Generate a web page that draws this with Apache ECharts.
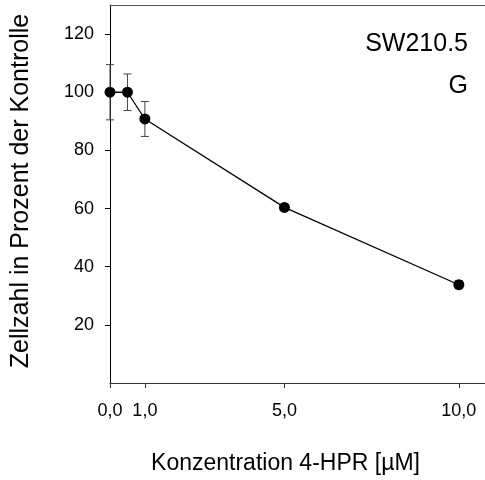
<!DOCTYPE html>
<html><head><meta charset="utf-8">
<script src="https://cdn.jsdelivr.net/npm/echarts@6/dist/echarts.min.js"></script>
<style>html,body{margin:0;padding:0;background:#fff}#c{width:485px;height:480px}</style>
</head><body><div id="c"></div>
<script>
const concentrations = [0, 0.5, 1, 5, 10];
const meanValues = [100, 100, 90.8, 60.4, 33.8];
const errValues = [9.5, 6.3, 6.0, 1.0, 1.4];
const xTicks = [0, 1, 5, 10];
const yTicks = [20, 40, 60, 80, 100, 120];
const titleLines = ['SW210.5', 'G'];

const font = 'Liberation Sans, Arial, sans-serif';
const chart = echarts.init(document.getElementById('c'));
const lineData = concentrations.map((x, i) => [x, meanValues[i]]);
const errData = concentrations.map((x, i) => [x, meanValues[i] - errValues[i], meanValues[i] + errValues[i]]);

chart.setOption({
  animation: false,
  grid: { left: 110, top: 5, right: 0, bottom: 97 },
  graphic: [
    { type: 'text', right: 17, top: 32, style: { text: titleLines[0], font: '25px ' + font, fill: '#000', textAlign: 'right' } },
    { type: 'text', right: 17, top: 74, style: { text: titleLines[1], font: '25px ' + font, fill: '#000', textAlign: 'right' } }
  ],
  xAxis: [{
    type: 'value', min: 0, max: 10.75,
    name: 'Konzentration 4-HPR [\u00b5M]', nameLocation: 'middle', nameGap: 69,
    nameTextStyle: { fontFamily: font, fontSize: 23, color: '#000', padding: [0, 24, 0, 0] },
    axisLine: { show: true, lineStyle: { color: '#333', width: 1 } },
    axisTick: { show: true, length: 5, lineStyle: { color: '#333' }, customValues: xTicks },
    axisLabel: { fontFamily: font, fontSize: 18, color: '#000', margin: 19, customValues: xTicks,
      formatter: v => v.toFixed(1).replace('.', ',') },
    splitLine: { show: false }
  }, {
    type: 'value', min: 0, max: 10.75, position: 'top',
    axisLine: { show: true, lineStyle: { color: '#555', width: 1 } },
    axisTick: { show: false }, axisLabel: { show: false }, splitLine: { show: false }
  }],
  yAxis: {
    type: 'value', min: 0, max: 130,
    name: 'Zellzahl in Prozent der Kontrolle', nameLocation: 'middle', nameGap: 76,
    nameTextStyle: { fontFamily: font, fontSize: 25, color: '#000', padding: [0, 0, 0, 6] },
    axisLine: { show: true, lineStyle: { color: '#000', width: 1 } },
    axisTick: { show: true, length: 5, lineStyle: { color: '#000' }, customValues: yTicks },
    axisLabel: { fontFamily: font, fontSize: 18, color: '#000', margin: 16, customValues: yTicks },
    splitLine: { show: false }
  },
  series: [{
    type: 'custom',
    data: errData,
    z: 3,
    renderItem: function (params, api) {
      const x = api.value(0);
      const lo = api.coord([x, api.value(1)]);
      const hi = api.coord([x, api.value(2)]);
      const w = 4;
      const st = { stroke: '#444', lineWidth: 1 };
      return { type: 'group', children: [
        { type: 'line', shape: { x1: lo[0], y1: lo[1], x2: hi[0], y2: hi[1] }, style: st },
        { type: 'line', shape: { x1: lo[0] - w, y1: lo[1], x2: lo[0] + w, y2: lo[1] }, style: st },
        { type: 'line', shape: { x1: hi[0] - w, y1: hi[1], x2: hi[0] + w, y2: hi[1] }, style: st }
      ]};
    }
  }, {
    type: 'line',
    data: lineData,
    z: 4,
    symbol: 'circle', symbolSize: 11,
    lineStyle: { color: '#000', width: 1.3 },
    itemStyle: { color: '#000' },
    clip: false
  }]
});
</script></body></html>
